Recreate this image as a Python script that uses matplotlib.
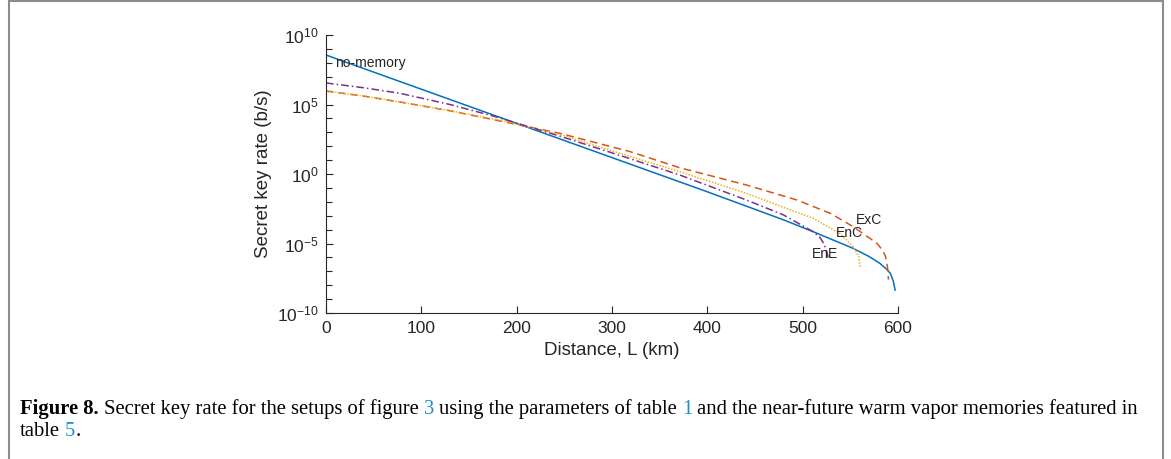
import numpy as np
import matplotlib
matplotlib.use("Agg")
import matplotlib.pyplot as plt
from matplotlib.patches import Rectangle
from matplotlib.ticker import NullFormatter

# data (distance in km, log10 of key rate in b/s)
nomem_km = [0, 200, 400, 480, 511, 553, 570, 581, 588, 592, 595, 597]
nomem_log = [8.56, 3.64, -1.28, -3.3, -4.15, -5.35, -5.95, -6.43, -6.85, -7.15, -7.7, -8.35]

exc_km = [0, 40, 80, 130, 180, 245, 319, 371, 441, 494, 529, 553, 578, 584, 587, 589, 590]
exc_log = [5.97, 5.6, 5.15, 4.55, 3.85, 2.93, 1.61, 0.45, -0.79, -1.87, -2.83, -3.79,
           -4.99, -5.5, -5.95, -6.7, -7.6]

enc_km = [0, 40, 80, 130, 180, 245, 310, 371, 441, 511, 539, 553, 559, 560]
enc_log = [5.97, 5.6, 5.15, 4.55, 3.9, 2.85, 1.45, 0.17, -1.39, -3.19, -4.27, -5.23, -5.95, -6.67]

ene_km = [0, 40, 78, 130, 179, 245, 310, 371, 441, 480, 511, 518, 522, 525, 527]
ene_log = [6.55, 6.2, 5.8, 5.0, 4.1, 2.73, 1.3, -0.07, -1.87, -2.95, -4.15, -4.55, -4.99,
           -5.5, -6.07]

x_ticks = [0, 100, 200, 300, 400, 500, 600]
y_ticks = [1e-10, 1e-5, 1e0, 1e5, 1e10]
y_ticklabels = [r"$10^{-10}$", r"$10^{-5}$", r"$10^{0}$", r"$10^{5}$", r"$10^{10}$"]

plt.rcParams["font.family"] = "Liberation Sans"
plt.rcParams["mathtext.default"] = "regular"

W, H = 1171, 459
fig = plt.figure(figsize=(W / 100, H / 100), dpi=100)
ax = fig.add_axes([326 / W, 146 / H, 572 / W, 278 / H])
ax.set_yscale("log")

ax.plot(nomem_km, 10.0 ** np.array(nomem_log), color="#0072BD", lw=1.1, ls="-")
ax.plot(exc_km, 10.0 ** np.array(exc_log), color="#D95319", lw=1.1, ls=(0, (5, 3)))
ax.plot(enc_km, 10.0 ** np.array(enc_log), color="#EDB120", lw=1.1, ls=(0, (1, 1)))
ax.plot(ene_km, 10.0 ** np.array(ene_log), color="#7E2F8E", lw=1.1, ls=(0, (5, 2, 1, 2)))

ax.set_xlim(0, 600)
ax.set_ylim(1e-10, 1e10)
ax.set_xticks(x_ticks)
ax.set_yticks(y_ticks)
ax.set_yticklabels(y_ticklabels)
ax.set_yticks(10.0 ** np.arange(-10, 11), minor=True)
ax.yaxis.set_minor_formatter(NullFormatter())

for s in ["top", "right"]:
    ax.spines[s].set_visible(False)
for s in ["left", "bottom"]:
    ax.spines[s].set_color("#262626")
    ax.spines[s].set_linewidth(0.8)
ax.tick_params(which="major", direction="in", length=5, width=0.8,
               colors="#262626", labelsize=12.5)
ax.tick_params(axis="x", pad=6)
ax.tick_params(axis="y", pad=5)
ax.tick_params(which="minor", direction="in", length=4, width=0.8, colors="#262626")

ax.set_xlabel("Distance, L (km)", fontsize=13.5, color="#262626", labelpad=4)
ax.set_ylabel("Secret key rate (b/s)", fontsize=13.5, color="#262626", labelpad=4)

ax.text(9.4, 10 ** 7.99, "no-memory", fontsize=10, va="center", ha="left", color="#262626")
ax.text(556, 10 ** -3.31, "ExC", fontsize=10, va="center", ha="left", color="#262626")
ax.text(535, 10 ** -4.25, "EnC", fontsize=10, va="center", ha="left", color="#262626")
ax.text(510, 10 ** -5.76, "EnE", fontsize=10, va="center", ha="left", color="#262626")

# page frame
fig.patches.append(Rectangle((9 / W, -0.05), (1163 - 9) / W, 1.05 - 1.5 / H,
                             transform=fig.transFigure, fill=False,
                             ec="#8c8c8c", lw=1.5))

# caption, built piece by piece
r = fig.canvas.get_renderer()
serif = "Liberation Serif"
blue = "#1f8fc8"


def width(s, size, weight="normal"):
    t = fig.text(0, 0, s, fontsize=size, family=serif, weight=weight)
    w = t.get_window_extent(r).width / W
    t.remove()
    return w


line1 = [("Figure 8.", "black", "bold"),
         ("Secret key rate for the setups of figure", "black", "normal"),
         ("3", blue, "normal"),
         ("using the parameters of table", "black", "normal"),
         ("1", blue, "normal"),
         ("and the near-future warm vapor memories featured in", "black", "normal")]

# pick a size so the first line spans the same width as the original
base = 10
tot = sum(width(s, base, wt) for s, c, wt in line1) + 5 * (width("a a", base) - width("aa", base))
size = base * ((1138 - 20) / W) / tot

sp = width("a a", size) - width("aa", size)
x = 20 / W
y1 = 1 - 414 / H
for s, c, wt in line1:
    fig.text(x, y1, s, fontsize=size, family=serif, weight=wt, color=c, va="baseline")
    x += width(s, size, wt) + sp

y2 = 1 - 436 / H
x = 20 / W
fig.text(x, y2, "table", fontsize=size, family=serif, color="black", va="baseline")
x += width("table", size) + sp
fig.text(x, y2, "5", fontsize=size, family=serif, color=blue, va="baseline")
x += width("5", size)
fig.text(x, y2, ".", fontsize=size, family=serif, color="black", va="baseline")

fig.savefig("out.png", dpi=100)
